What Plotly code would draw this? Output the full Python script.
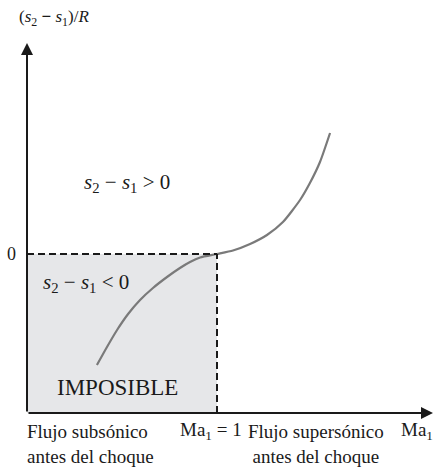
import plotly.graph_objects as go

# Entropy change across a normal shock vs upstream Mach number
mach_curve = [0.368, 0.421, 0.474, 0.532, 0.595, 0.663, 0.737, 0.805, 0.858, 0.911, 1.0,
              1.084, 1.174, 1.263, 1.347, 1.437, 1.489, 1.542, 1.595]
ds_over_r = [-1.11, -0.93, -0.76, -0.60, -0.46, -0.34, -0.23, -0.14, -0.08, -0.035, 0.0,
             0.035, 0.10, 0.19, 0.32, 0.54, 0.71, 0.92, 1.21]

# Axis extents (in Ma and (s2-s1)/R units)
x_min, x_max = 0.0, 2.137
y_min, y_max = -1.59, 2.11
ma_sonic = 1.0

SERIF = "Liberation Serif"
TXT = "#1a1a1a"

fig = go.Figure()

fig.add_trace(go.Scatter(
    x=mach_curve, y=ds_over_r, mode="lines",
    line=dict(color="#7a7a7a", width=2.2, shape="spline", smoothing=0.6),
    hoverinfo="skip", showlegend=False,
))

shapes = [
    # shaded impossible region
    dict(type="rect", xref="x", yref="y", x0=x_min, x1=ma_sonic, y0=y_min, y1=0,
         fillcolor="#e6e7e9", line=dict(width=0), layer="below"),
    # dashed boundaries
    dict(type="line", xref="x", yref="y", x0=x_min, x1=ma_sonic, y0=0, y1=0,
         line=dict(color="#1a1a1a", width=2, dash="7px,4px")),
    dict(type="line", xref="x", yref="y", x0=ma_sonic, x1=ma_sonic, y0=y_min, y1=0,
         line=dict(color="#1a1a1a", width=2, dash="7px,4px")),
]

annotations = [
    # axes with arrowheads
    dict(x=x_min, y=y_max, ax=x_min, ay=y_min, xref="x", yref="y", axref="x", ayref="y",
         text="", showarrow=True, arrowhead=2, arrowsize=1.2, arrowwidth=2, arrowcolor="#1a1a1a"),
    dict(x=x_max, y=y_min, ax=x_min, ay=y_min, xref="x", yref="y", axref="x", ayref="y",
         text="", showarrow=True, arrowhead=2, arrowsize=1.2, arrowwidth=2, arrowcolor="#1a1a1a"),
]

def label(text, x, y, size=15, xanchor="center", yanchor="middle", align="center"):
    annotations.append(dict(x=x, y=y, xref="x", yref="y", text=text, showarrow=False,
                            xanchor=xanchor, yanchor=yanchor, align=align,
                            font=dict(family=SERIF, size=size, color=TXT)))

label("(<i>s</i><sub>2</sub> <b>−</b> <i>s</i><sub>1</sub>)/<i>R</i>", -0.055, 2.36, size=17, xanchor="left")
label("0", -0.045, 0.0, size=18, xanchor="right")
label("<i>s</i><sub>2</sub> − <i>s</i><sub>1</sub> > 0", 0.29, 0.71, size=21, xanchor="left")
label("<i>s</i><sub>2</sub> − <i>s</i><sub>1</sub> < 0", 0.075, -0.29, size=21, xanchor="left")
label("IMPOSIBLE", 0.474, -1.33, size=23)
label("Flujo subsónico<br>antes del choque", -0.01, -1.895, size=19, xanchor="left", align="left")
label("Ma<sub>1</sub> = 1", 0.795, -1.77, size=19, xanchor="left")
label("Flujo supersónico<br>antes del choque", 1.52, -1.895, size=19)
label("Ma<sub>1</sub>", 1.96, -1.77, size=19, xanchor="left")

fig.update_layout(
    width=436, height=470,
    margin=dict(l=0, r=0, t=0, b=0),
    paper_bgcolor="white", plot_bgcolor="white",
    xaxis=dict(range=[-27 / 190, 409 / 190], visible=False, fixedrange=True),
    yaxis=dict(range=[-2.16, 2.54], visible=False, fixedrange=True),
    shapes=shapes, annotations=annotations,
    showlegend=False,
)

fig.write_html("out.html")
